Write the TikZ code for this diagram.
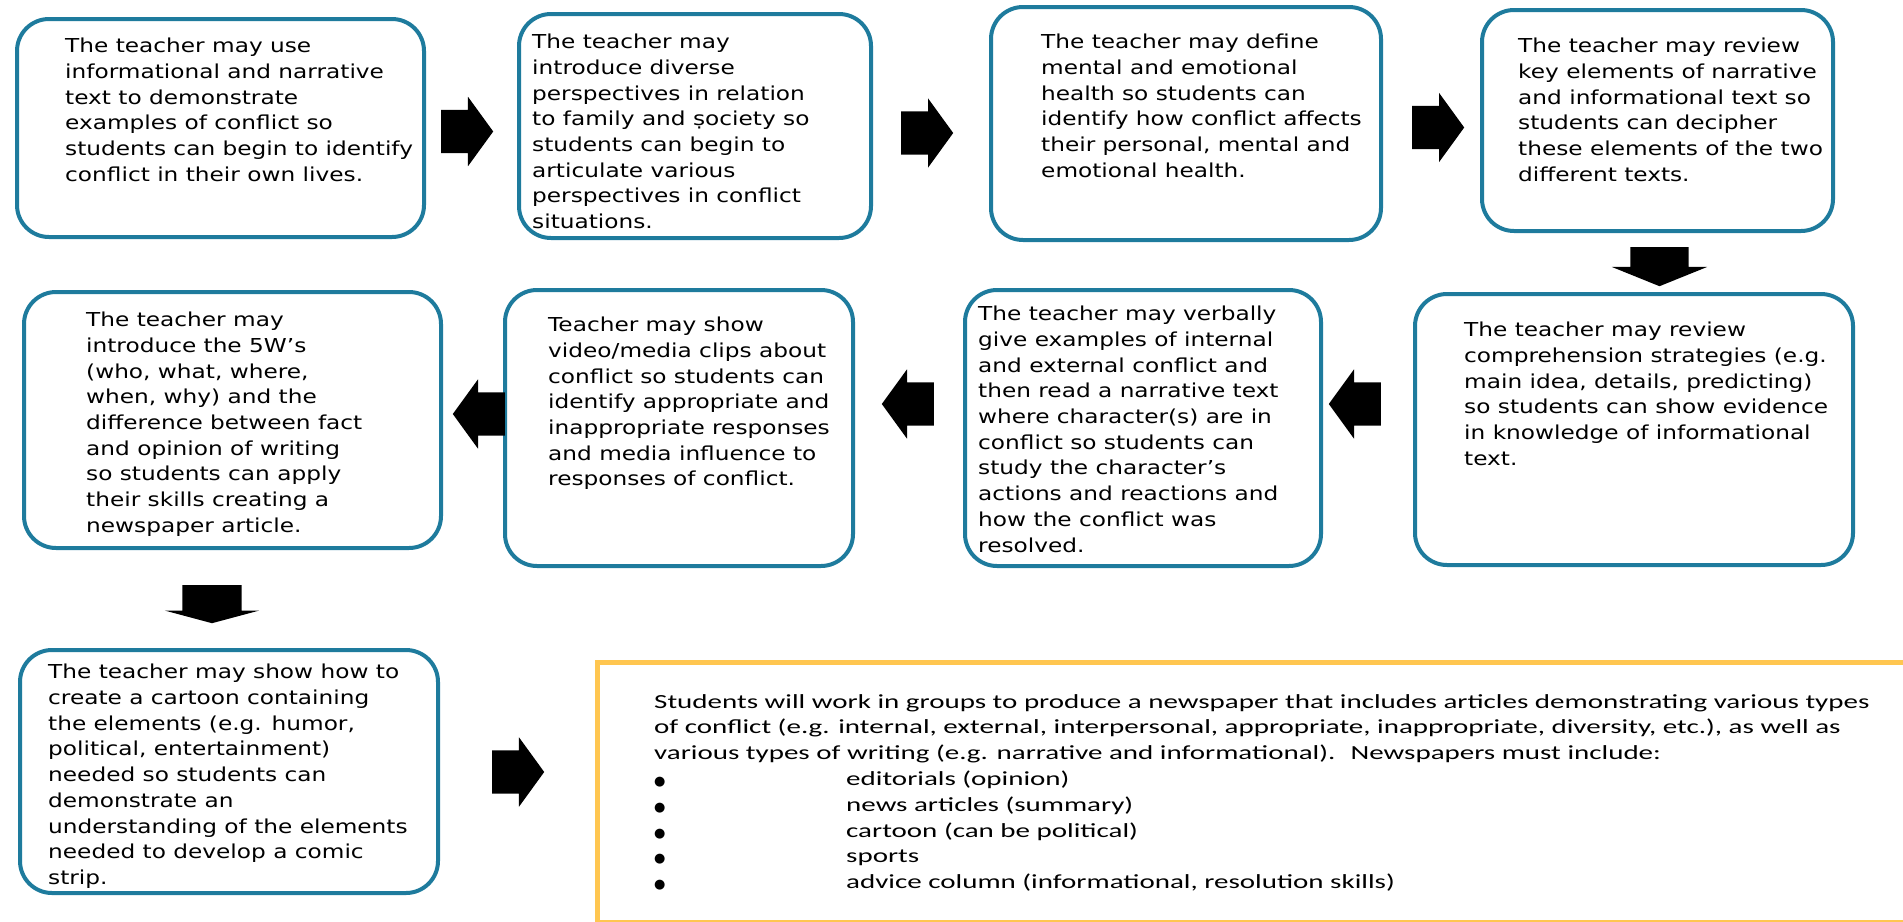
\documentclass[tikz,border=0pt]{standalone}
\usepackage{fontspec}
\setmainfont{DejaVu Sans}[FakeStretch=1.21]
\newfontfamily\calfont{Carlito}[FakeStretch=1.45]
\newfontfamily\dotfont{DejaVu Sans}
\usepackage{tikz}
\usetikzlibrary{shapes.arrows}
\definecolor{boxblue}{RGB}{30,123,157}
\definecolor{boxgold}{RGB}{255,198,80}

\begin{document}
\begin{tikzpicture}[x=1pt,y=-1pt,
    stepbox/.style={draw=boxblue, line width=4pt, rounded corners=32pt, fill=white, inner sep=0pt},
    steptext/.style={anchor=north west, inner sep=0pt, align=left, font=\fontsize{19.2}{25.7}\selectfont},
    rarrow/.style={single arrow, fill=black, anchor=tail, inner xsep=0pt, inner ysep=21.5pt, minimum height=52pt, single arrow head extend=13pt, single arrow tip angle=108},
    darrow/.style={single arrow, fill=black, anchor=tail, inner xsep=0pt, inner ysep=29pt, minimum height=39pt, single arrow head extend=18.5pt, single arrow tip angle=136, rotate=-90}]
    \useasboundingbox (0,0) rectangle (1903,921);
    % Row 1
    \node[stepbox, minimum width=407pt, minimum height=218pt] (b1) at (220.5,128) {};
    \node[stepbox, minimum width=352pt, minimum height=224pt] (b2) at (695,126) {};
    \node[stepbox, minimum width=390pt, minimum height=233pt] (b3) at (1186,123.5) {};
    \node[stepbox, minimum width=351pt, minimum height=221pt] (b4) at (1657.5,120.5) {};
    \node[steptext] (t1) at (65,38) {The teacher may use\\informational and narrative\\text to demonstrate\\examples of conflict so\\students can begin to identify\\conflict in their own lives.};
    \node[steptext] (t2) at (532,34) {The teacher may\\introduce diverse\\perspectives in relation\\to family and ṣociety so\\students can begin to\\articulate various\\perspectives in conflict\\situations.};
    \node[steptext] (t3) at (1041,34) {The teacher may define\\mental and emotional\\health so students can\\identify how conflict affects\\their personal, mental and\\emotional health.};
    \node[steptext] (t4) at (1518,38) {The teacher may review\\key elements of narrative\\and informational text so\\students can decipher\\these elements of the two\\different texts.};
    \node[rarrow] (a12) at (441,131.5) {};
    \node[rarrow] (a23) at (901,133) {};
    \node[rarrow] (a34) at (1412,127.5) {};
    \node[darrow] (a48) at (1659.5,247) {};
    % Row 2
    \node[stepbox, minimum width=417pt, minimum height=256pt] (b5) at (232.5,420) {};
    \node[stepbox, minimum width=348pt, minimum height=276pt] (b6) at (679,428) {};
    \node[stepbox, minimum width=356pt, minimum height=276pt] (b7) at (1143,428) {};
    \node[stepbox, minimum width=438pt, minimum height=271pt] (b8) at (1634,429.5) {};
    \node[steptext] (t5) at (86,312) {The teacher may\\introduce the 5W’s\\(who, what, where,\\when, why) and the\\difference between fact\\and opinion of writing\\so students can apply\\their skills creating a\\newspaper article.};
    \node[steptext] (t6) at (548,317) {Teacher may show\\video/media clips about\\conflict so students can\\identify appropriate and\\inappropriate responses\\and media influence to\\responses of conflict.};
    \node[steptext] (t7) at (978,306) {The teacher may verbally\\give examples of internal\\and external conflict and\\then read a narrative text\\where character(s) are in\\conflict so students can\\study the character’s\\actions and reactions and\\how the conflict was\\resolved.};
    \node[steptext] (t8) at (1464,322) {The teacher may review\\comprehension strategies (e.g.\\main idea, details, predicting)\\so students can show evidence\\in knowledge of informational\\text.};
    \node[rarrow, rotate=180] (a87) at (1381,404) {};
    \node[rarrow, rotate=180] (a76) at (934,404) {};
    \node[rarrow, rotate=180] (a65) at (505,414) {};
    \node[darrow, minimum height=38pt, inner ysep=29.5pt, single arrow head extend=17.5pt, single arrow tip angle=150] (a59) at (212,585) {};
    % Row 3
    \node[stepbox, minimum width=418pt, minimum height=243pt] (b9) at (229,771.5) {};
    \node[steptext] (t9) at (48,664) {The teacher may show how to\\create a cartoon containing\\the elements (e.g. humor,\\political, entertainment)\\needed so students can\\demonstrate an\\understanding of the elements\\needed to develop a comic\\strip.};
    \node[rarrow] (a9g) at (492,772) {};
    % final product
    \node[draw=boxgold, line width=5pt, minimum width=1317.5pt, minimum height=259.5pt, inner sep=0pt] (goal) at (1256.25,792.25) {};
    \node[anchor=north west, inner sep=0pt, align=left, font=\calfont\fontsize{20}{25.8}\selectfont] (gtext) at (654,694)
      {Students will work in groups to produce a newspaper that includes articles demonstrating various types\\
       of conflict (e.g. internal, external, interpersonal, appropriate, inappropriate, diversity, etc.), as well as\\
       various types of writing (e.g. narrative and informational).~ Newspapers must include:\\
       \makebox[192pt][l]{\dotfont\fontsize{13}{13}\selectfont ●}editorials (opinion)\\
       \makebox[192pt][l]{\dotfont\fontsize{13}{13}\selectfont ●}news articles (summary)\\
       \makebox[192pt][l]{\dotfont\fontsize{13}{13}\selectfont ●}cartoon (can be political)\\
       \makebox[192pt][l]{\dotfont\fontsize{13}{13}\selectfont ●}sports\\
       \makebox[192pt][l]{\dotfont\fontsize{13}{13}\selectfont ●}advice column (informational, resolution skills)};
\end{tikzpicture}
\end{document}
